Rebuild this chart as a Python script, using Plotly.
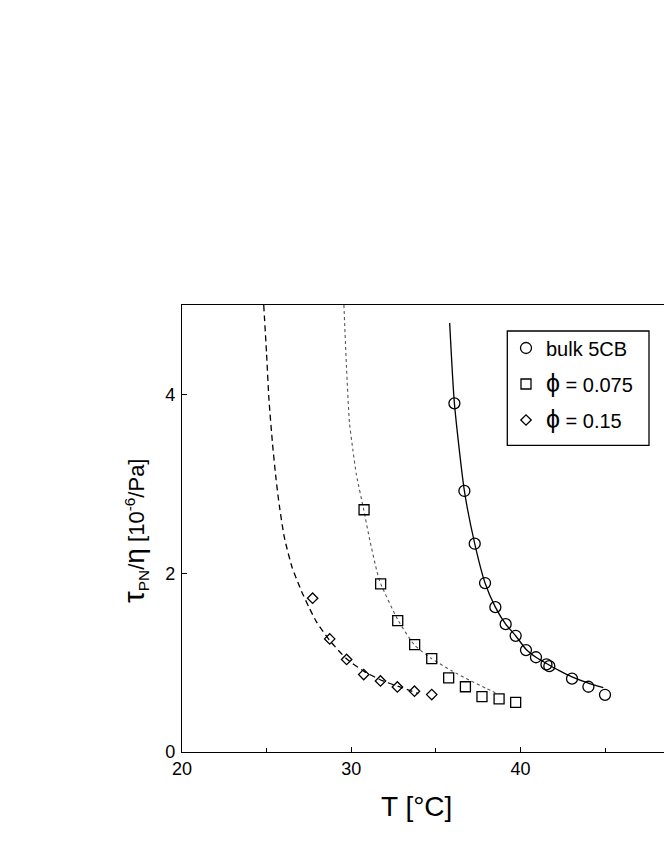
import plotly.graph_objects as go

# ── data ──────────────────────────────────────────────────────────────────────
bulk_T = [36.10, 36.69, 37.30, 37.91, 38.52, 39.13, 39.72, 40.33, 40.92, 41.54, 41.71, 43.05, 44.02, 45.00]
bulk_y = [3.90, 2.92, 2.33, 1.89, 1.62, 1.43, 1.30, 1.14, 1.06, 0.98, 0.96, 0.82, 0.73, 0.64]

phi075_T = [30.76, 31.74, 32.75, 33.75, 34.76, 35.76, 36.75, 37.73, 38.74, 39.72]
phi075_y = [2.71, 1.88, 1.47, 1.20, 1.045, 0.83, 0.73, 0.62, 0.595, 0.555]

phi15_T = [27.72, 28.73, 29.73, 30.74, 31.73, 32.73, 33.74, 34.76]
phi15_y = [1.72, 1.265, 1.035, 0.866, 0.795, 0.728, 0.68, 0.642]

# fitted curves
fit_bulk_T = [35.82, 36.10, 36.69, 37.30, 37.91, 38.52, 39.13, 39.72, 40.33, 40.92, 41.54, 42.3, 43.05, 44.02, 44.90]
fit_bulk_y = [4.80, 3.90, 2.92, 2.33, 1.89, 1.62, 1.43, 1.30, 1.15, 1.06, 0.99, 0.91, 0.84, 0.77, 0.72]

fit_075_T = [29.57, 29.72, 29.90, 30.10, 30.31, 30.74, 31.10, 31.52, 31.74, 32.77, 33.75, 34.75,
             35.93, 37.02, 38.00, 38.69]
fit_075_y = [5.0, 4.31, 3.68, 3.38, 3.10, 2.71, 2.37, 2.02, 1.885, 1.474, 1.195, 1.045,
             0.91, 0.80, 0.71, 0.646]

fit_15_T = [24.83, 25.00, 25.14, 25.35, 25.56, 25.75, 26.05, 26.50, 27.06, 27.50, 27.95, 28.72,
            29.71, 30.80, 31.88, 32.88, 33.96]
fit_15_y = [5.0, 4.45, 3.94, 3.45, 3.05, 2.76, 2.40, 2.07, 1.80, 1.62, 1.455, 1.25,
            1.045, 0.896, 0.795, 0.728, 0.654]

x_ticks = [20, 30, 40]
y_ticks = [0, 2, 4]

# ── page geometry (pixels) ────────────────────────────────────────────────────
FIG_W, FIG_H = 664, 860
M_L, M_T, M_B = 182, 305, 108
PLOT_W = FIG_W - M_L
PLOT_H = FIG_H - M_T - M_B
PX_PER_DEG = 16.92
X_MAX = 20 + PLOT_W / PX_PER_DEG


def px(x):   # pixel -> paper x
    return (x - M_L) / PLOT_W


def py(y):   # pixel -> paper y
    return (FIG_H - M_B - y) / PLOT_H


# ── style ─────────────────────────────────────────────────────────────────────
FONT = "Arial, 'Liberation Sans', Helvetica, sans-serif"
INK = "#000000"
DOT_GREY = "#555555"
PHI = "<span style='font-size:25px'>ϕ</span>"

fig = go.Figure()

# fit lines
fig.add_trace(go.Scatter(x=fit_bulk_T, y=fit_bulk_y, mode="lines", showlegend=False,
                         line=dict(color=INK, width=1.3, shape="spline", smoothing=0.6)))
fig.add_trace(go.Scatter(x=fit_075_T, y=fit_075_y, mode="lines", showlegend=False,
                         line=dict(color=DOT_GREY, width=1.1, dash="dot", shape="spline", smoothing=0.6)))
fig.add_trace(go.Scatter(x=fit_15_T, y=fit_15_y, mode="lines", showlegend=False,
                         line=dict(color=INK, width=1.3, dash="6px,4px", shape="spline", smoothing=0.6)))

# measured points, one legend each so the entries can be spaced like the original
fig.add_trace(go.Scatter(x=bulk_T, y=bulk_y, mode="markers", name="bulk 5CB", legend="legend",
                         marker=dict(symbol="circle-open", size=11, color=INK, line=dict(width=1.3))))
fig.add_trace(go.Scatter(x=phi075_T, y=phi075_y, mode="markers", name=f"{PHI} = 0.075", legend="legend2",
                         marker=dict(symbol="square-open", size=10, color=INK, line=dict(width=1.3))))
fig.add_trace(go.Scatter(x=phi15_T, y=phi15_y, mode="markers", name=f"{PHI} = 0.15", legend="legend3",
                         marker=dict(symbol="diamond-open", size=8, color=INK, line=dict(width=1.3))))

axis_common = dict(
    showgrid=False, zeroline=False,
    showline=True, linecolor=INK, linewidth=1.3,
    ticks="inside", ticklen=5, tickwidth=1, tickcolor=INK,
    tickfont=dict(family=FONT, size=18, color=INK),
)

leg = dict(bgcolor="rgba(0,0,0,0)", borderwidth=0, xanchor="left", yanchor="middle",
           font=dict(family=FONT, size=20, color=INK), x=px(506))

fig.update_layout(
    width=FIG_W, height=FIG_H,
    paper_bgcolor="white", plot_bgcolor="white",
    margin=dict(l=M_L, r=0, t=M_T, b=M_B),
    font=dict(family=FONT, color=INK),
    xaxis=dict(**axis_common, range=[20, X_MAX], tickvals=x_ticks, mirror=True,
               minor=dict(dtick=5, tick0=20, ticks="inside", ticklen=4, tickcolor=INK)),
    yaxis=dict(**axis_common, range=[0, 5], tickvals=y_ticks, ticklabelstandoff=2),
    legend=dict(**leg, y=py(348)),
    legend2=dict(**leg, y=py(384)),
    legend3=dict(**leg, y=py(420)),
    shapes=[dict(type="rect", xref="paper", yref="paper",
                 x0=px(507.3), x1=px(649), y0=py(445.3), y1=py(331),
                 line=dict(color=INK, width=1.3))],
    annotations=[
        dict(text="<span style='font-size:30px'>τ</span><sub>PN</sub>/"
                  "<span style='font-size:28px'>η</span> [10<sup>-6</sup>/Pa]",
             xref="paper", yref="paper", x=px(134), y=py(531),
             xanchor="center", yanchor="middle", textangle=-90, showarrow=False,
             font=dict(family=FONT, size=22, color=INK)),
        dict(text="T [°C]", xref="paper", yref="paper", x=px(416.5), y=py(806),
             xanchor="center", yanchor="middle", showarrow=False,
             font=dict(family=FONT, size=28, color=INK)),
    ],
)

# drop the browser's default 8px page margin so the figure sits at the window origin
fig.write_html("out.html", config={"displayModeBar": False},
               post_script="document.body.style.margin = '0';")
